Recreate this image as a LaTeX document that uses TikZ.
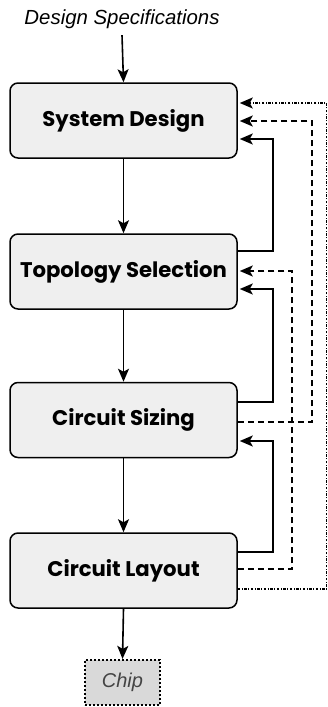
\documentclass[tikz,border=0pt]{standalone}
\usepackage{fontspec}
\setmainfont{Liberation Sans}
\newfontfamily\boxfont{Poppins}
\usetikzlibrary{arrows.meta,calc}
\definecolor{boxgray}{HTML}{EFEFEF}
\definecolor{chipgray}{HTML}{D9D9D9}
\definecolor{chiptext}{HTML}{444444}
\begin{document}
\begin{tikzpicture}[x=1pt,y=-1pt,
  stage/.style={draw, line width=1.5pt, rounded corners=8pt, fill=boxgray,
    minimum width=227pt, minimum height=75pt, inner sep=0pt,
    font=\boxfont\bfseries\fontsize{21.2}{23}\selectfont},
  chipbox/.style={draw, line width=2.2pt, dash pattern=on 2pt off 2pt, fill=chipgray,
    minimum width=75pt, minimum height=45pt, inner sep=0pt,
    font=\itshape\fontsize{20}{22}\selectfont, text=chiptext},
  tip/.style={-{Stealth[length=13pt,width=11pt,inset=3pt]}},
  flow/.style={line width=1.6pt, tip},
  fbsolid/.style={line width=1.6pt, tip, shorten >=2pt},
  fbdash/.style={line width=1.6pt, dash pattern=on 6pt off 4pt, tip, shorten >=2pt},
  fbdot/.style={line width=1.2pt, dash pattern=on 2.5pt off 1.5pt on 1pt off 1.5pt, tip, shorten >=2pt},
]
\useasboundingbox (0,0) rectangle (328,707);

% design flow stages
\node[font=\itshape\fontsize{20.4}{22}\selectfont] (spec) at (122,19) {Design Specifications};
\node[stage] (sys) at (123.5,120.5) {System Design};
\node[stage] (topo) at (123.5,271.5) {Topology Selection};
\node[stage] (size) at (123.5,420) {Circuit Sizing};
\node[stage] (layout) at (123.5,570.5) {Circuit Layout};
\node[chipbox] (chip) at (122.5,682.5) {Chip};

% forward flow
\draw[flow] ($(spec.south)+(0,3)$) -- (sys.north);
\draw[flow] (sys.south) -- (topo.north);
\draw[flow] (topo.south) -- (size.north);
\draw[flow] (size.south) -- (layout.north);
\draw[flow] (layout.south) -- (chip.north);

% feedback ports
\coordinate (sysInA) at ($(sys.east)+(0,-17.5)$);
\coordinate (sysInB) at ($(sys.east)+(0,0.5)$);
\coordinate (sysInC) at ($(sys.east)+(0,18.5)$);
\coordinate (topoOut) at ($(topo.east)+(0,-20.5)$);
\coordinate (topoInA) at ($(topo.east)+(0,-0.5)$);
\coordinate (topoInB) at ($(topo.east)+(0,17.5)$);
\coordinate (sizeOutA) at ($(size.east)+(0,-18)$);
\coordinate (sizeOutB) at ($(size.east)+(0,2)$);
\coordinate (sizeIn) at ($(size.east)+(0,21)$);
\coordinate (layOutA) at ($(layout.east)+(0,-18.5)$);
\coordinate (layOutB) at ($(layout.east)+(0,-1.5)$);
\coordinate (layOutC) at ($(layout.east)+(0,18.5)$);

% return rails
\coordinate (railS) at (273,0);
\coordinate (railD) at (292,0);
\coordinate (railE) at (312,0);
\coordinate (railF) at (326.5,0);

% feedback loops
\draw[fbsolid] (topoOut) -- (topoOut -| railS) -- (sysInC -| railS) -- (sysInC);
\draw[fbsolid] (sizeOutA) -- (sizeOutA -| railS) -- (topoInB -| railS) -- (topoInB);
\draw[fbsolid] (layOutA) -- (layOutA -| railS) -- (sizeIn -| railS) -- (sizeIn);
\draw[fbdash] (layOutB) -- (layOutB -| railD) -- (topoInA -| railD) -- (topoInA);
\draw[fbdash] (sizeOutB) -- (sizeOutB -| railE) -- (sysInB -| railE) -- (sysInB);
\draw[fbdot] (layOutC) -- (layOutC -| railF) -- (sysInA -| railF) -- (sysInA);
\end{tikzpicture}
\end{document}
